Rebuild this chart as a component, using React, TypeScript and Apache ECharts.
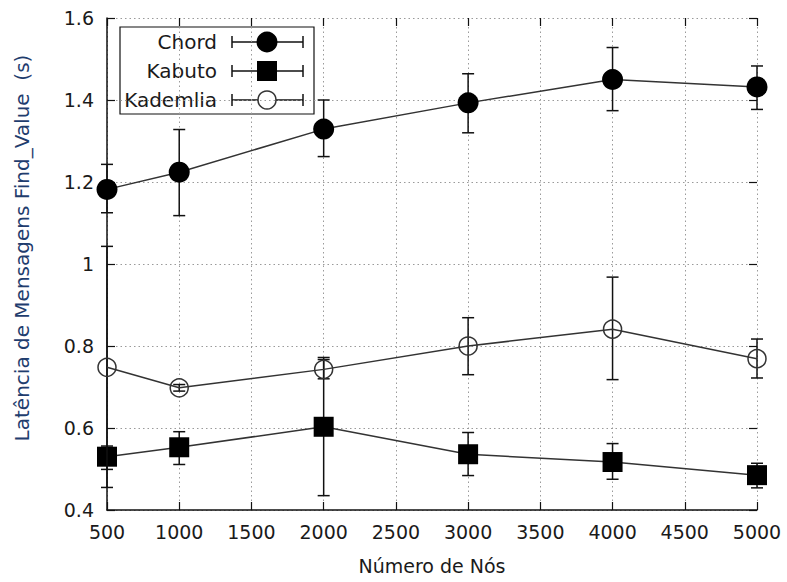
import React, { useEffect, useRef } from "react";
import * as echarts from "echarts";

const nodes = [500, 1000, 2000, 3000, 4000, 5000];
const yTickLabels = ["0.4", "0.6", "0.8", "1", "1.2", "1.4", "1.6"];

const chordMean = [1.182, 1.224, 1.329, 1.393, 1.45, 1.432];
const chordLow = [1.125, 1.118, 1.262, 1.32, 1.374, 1.377];
const chordHigh = [1.243, 1.328, 1.4, 1.464, 1.528, 1.483];

const kabutoMean = [0.53, 0.553, 0.603, 0.536, 0.517, 0.485];
const kabutoLow = [0.499, 0.511, 0.435, 0.484, 0.475, 0.454];
const kabutoHigh = [0.556, 0.591, 0.772, 0.589, 0.562, 0.514];

const kademliaMean = [0.748, 0.698, 0.743, 0.8, 0.841, 0.769];
const kademliaLow = [0.455, 0.69, 0.72, 0.73, 0.718, 0.722];
const kademliaHigh = [1.043, 0.706, 0.767, 0.869, 0.968, 0.817];

const seriesNames = ["Chord", "Kabuto", "Kademlia"];

const FONT = "DejaVu Sans";
const INK = "#1a1a1a";

function errorSeries(name: string, low: number[], high: number[], z: number) {
  return {
    type: "custom",
    name: name + " err",
    z,
    clip: false,
    silent: true,
    data: nodes.map((x, i) => [x, low[i], high[i]]),
    renderItem: (params: any, api: any) => {
      const x = api.value(0);
      const pLo = api.coord([x, api.value(1)]);
      const pHi = api.coord([x, api.value(2)]);
      const w = 6;
      const style = { stroke: "#111", lineWidth: 1.5 };
      return {
        type: "group",
        children: [
          { type: "line", shape: { x1: pHi[0], y1: pHi[1], x2: pLo[0], y2: pLo[1] }, style },
          { type: "line", shape: { x1: pHi[0] - w, y1: pHi[1], x2: pHi[0] + w, y2: pHi[1] }, style },
          { type: "line", shape: { x1: pLo[0] - w, y1: pLo[1], x2: pLo[0] + w, y2: pLo[1] }, style },
        ],
      };
    },
  };
}

function legendRow(label: string, y: number, marker: any) {
  const ls = { stroke: "#111", lineWidth: 1.5 };
  return [
    {
      type: "text",
      style: { text: label, x: 217, y, align: "right", verticalAlign: "middle", font: `20px "${FONT}"`, fill: INK },
    },
    { type: "line", shape: { x1: 232, y1: y, x2: 303, y2: y }, style: ls },
    { type: "line", shape: { x1: 232, y1: y - 6, x2: 232, y2: y + 6 }, style: ls },
    { type: "line", shape: { x1: 303, y1: y - 6, x2: 303, y2: y + 6 }, style: ls },
    marker,
  ];
}

export default function App() {
  const ref = useRef<HTMLDivElement>(null);
  useEffect(() => {
    if (!ref.current) return;
    const chart = echarts.init(ref.current, null, { renderer: "svg" });
    const gridLine = { show: true, lineStyle: { color: "#9a9a9a", type: [1.5, 3], width: 1 } };
    const tickStyle = { show: true, inside: true, length: 8, lineStyle: { color: "#111", width: 1.2 } };
    const lineStyle = { color: "#333", width: 1.5 };
    chart.setOption({
      animation: false,
      backgroundColor: "#fff",
      grid: { left: 107, right: 30, top: 18, bottom: 72 },
      xAxis: [
        {
          type: "value",
          min: 500,
          max: 5000,
          interval: 500,
          position: "bottom",
          name: "Número de Nós",
          nameLocation: "middle",
          nameGap: 46,
          nameTextStyle: { fontFamily: FONT, fontSize: 19, color: INK },
          axisLine: { show: true, lineStyle: { color: "#111", width: 1.5 } },
          axisTick: tickStyle,
          splitLine: gridLine,
          axisLabel: {
            fontFamily: FONT,
            fontSize: 19,
            color: INK,
            margin: 12,
            formatter: (v: number) => String(v),
          },
        },
        {
          type: "value",
          min: 500,
          max: 5000,
          interval: 500,
          position: "top",
          axisLine: { show: false },
          axisTick: tickStyle,
          axisLabel: { show: false },
          splitLine: { show: false },
        },
      ],
      yAxis: [
        {
          type: "value",
          min: 0.4,
          max: 1.6,
          interval: 0.2,
          position: "left",
          name: "Latência de Mensagens Find_Value\u00a0 (s)",
          nameLocation: "middle",
          nameGap: 75,
          nameTextStyle: { fontFamily: FONT, fontSize: 20, color: "#1f3d6e", padding: [0, 0, 0, 32] },
          axisLine: { show: true, lineStyle: { color: "#111", width: 1.5 } },
          axisTick: tickStyle,
          splitLine: gridLine,
          axisLabel: {
            fontFamily: FONT,
            fontSize: 19,
            color: INK,
            margin: 13,
            formatter: (v: number) => yTickLabels[Math.round((v - 0.4) / 0.2)] ?? String(v),
          },
        },
        {
          type: "value",
          min: 0.4,
          max: 1.6,
          interval: 0.2,
          position: "right",
          axisLine: { show: false },
          axisTick: tickStyle,
          axisLabel: { show: false },
          splitLine: { show: false },
        },
      ],
      series: [
        errorSeries(seriesNames[0], chordLow, chordHigh, 2),
        {
          type: "line",
          name: seriesNames[0],
          z: 3,
          data: nodes.map((x, i) => [x, chordMean[i]]),
          symbol: "circle",
          symbolSize: 21,
          itemStyle: { color: "#000" },
          lineStyle,
        },
        errorSeries(seriesNames[1], kabutoLow, kabutoHigh, 4),
        {
          type: "line",
          name: seriesNames[1],
          z: 5,
          data: nodes.map((x, i) => [x, kabutoMean[i]]),
          symbol: "rect",
          symbolSize: 20,
          itemStyle: { color: "#000" },
          lineStyle,
        },
        errorSeries(seriesNames[2], kademliaLow, kademliaHigh, 6),
        {
          type: "line",
          name: seriesNames[2],
          z: 7,
          data: nodes.map((x, i) => [x, kademliaMean[i]]),
          symbol: "circle",
          symbolSize: 18,
          itemStyle: { color: "rgba(255,255,255,0)", borderColor: "#333", borderWidth: 1.5 },
          lineStyle,
        },
      ],
      graphic: [
        {
          type: "group",
          z: 100,
          children: [
            {
              type: "rect",
              shape: { x: 120, y: 27, width: 194, height: 87 },
              style: { fill: "#fff", stroke: "#111", lineWidth: 1.2 },
            },
            ...legendRow(seriesNames[0], 42, {
              type: "circle",
              shape: { cx: 267, cy: 42, r: 10.5 },
              style: { fill: "#000" },
            }),
            ...legendRow(seriesNames[1], 71, {
              type: "rect",
              shape: { x: 257, y: 61, width: 20, height: 20 },
              style: { fill: "#000" },
            }),
            ...legendRow(seriesNames[2], 100, {
              type: "circle",
              shape: { cx: 267, cy: 100, r: 9 },
              style: { fill: "#fff", stroke: "#333", lineWidth: 1.5 },
            }),
          ],
        },
      ],
    });
    return () => chart.dispose();
  }, []);
  return (
    <div
      ref={ref}
      style={{ position: "fixed", left: 0, top: 0, width: 787, height: 582, background: "#fff" }}
    />
  );
}
